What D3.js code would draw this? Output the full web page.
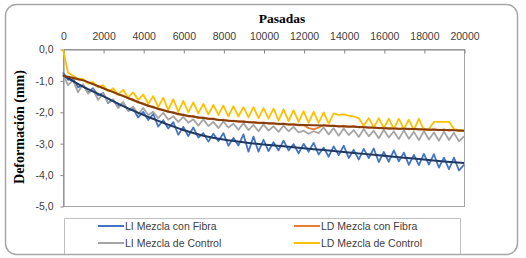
<!doctype html>
<html lang="es">
    <head>
        <meta charset="utf-8">
        <title>Deformación vs Pasadas</title>
        <script type="text/javascript" src="https://cdn.jsdelivr.net/npm/d3@7"></script>
        <style>
            body { margin: 0; background: #fff; }
            text { font-family: "Liberation Sans", Arial, sans-serif; fill: #404040; }
        </style>
    </head>
    <body>
        <script type="text/javascript">
            // sampling grid of passes (every 250)
            var pasadas = d3.range(0, 20001, 250);
            var yTicks = [0, -1, -2, -3, -4, -5];
            var xTicks = [0, 2000, 4000, 6000, 8000, 10000, 12000, 14000, 16000, 18000, 20000];

            var liFibra = [
                -0.75, -0.98, -0.95, -1.22, -1.15, -1.39, -1.25, -1.48, -1.40, -1.72,
                -1.62, -1.84, -1.70, -1.97, -1.90, -2.18, -2.00, -2.26, -2.07, -2.47,
                -2.27, -2.53, -2.33, -2.73, -2.48, -2.77, -2.50, -2.82, -2.68, -2.95,
                -2.70, -2.93, -2.68, -3.08, -2.83, -3.07, -2.72, -3.27, -2.79, -3.27,
                -2.89, -3.25, -2.97, -3.23, -2.92, -3.23, -3.03, -3.32, -3.02, -3.27,
                -2.99, -3.36, -3.14, -3.43, -3.10, -3.38, -3.08, -3.47, -3.21, -3.52,
                -3.18, -3.47, -3.17, -3.60, -3.28, -3.59, -3.23, -3.58, -3.30, -3.69,
                -3.37, -3.70, -3.34, -3.68, -3.35, -3.78, -3.46, -3.83, -3.46, -3.87,
                -3.68
            ];
            var ldFibra = [
                -0.85, -0.91, -0.92, -0.98, -0.98, -1.08, -1.10, -1.20, -1.23, -1.33,
                -1.35, -1.46, -1.48, -1.58, -1.60, -1.71, -1.73, -1.82, -1.83, -1.92,
                -1.93, -2.01, -2.01, -2.09, -2.08, -2.15, -2.13, -2.20, -2.18, -2.23,
                -2.21, -2.27, -2.25, -2.30, -2.28, -2.32, -2.30, -2.34, -2.32, -2.36,
                -2.34, -2.38, -2.36, -2.40, -2.37, -2.42, -2.39, -2.43, -2.42, -2.52,
                -2.56, -2.50, -2.42, -2.45, -2.43, -2.47, -2.44, -2.48, -2.45, -2.50,
                -2.47, -2.51, -2.48, -2.53, -2.50, -2.54, -2.51, -2.55, -2.52, -2.56,
                -2.53, -2.57, -2.54, -2.58, -2.55, -2.59, -2.56, -2.60, -2.57, -2.61,
                -2.60
            ];
            var liControl = [
                -0.80, -1.15, -1.00, -1.38, -1.12, -1.42, -1.30, -1.62, -1.42, -1.70,
                -1.60, -1.88, -1.70, -1.95, -1.84, -2.08, -1.88, -2.10, -2.00, -2.20,
                -2.03, -2.25, -2.14, -2.32, -2.16, -2.35, -2.24, -2.44, -2.24, -2.45,
                -2.32, -2.52, -2.31, -2.50, -2.38, -2.57, -2.36, -2.58, -2.42, -2.62,
                -2.40, -2.60, -2.46, -2.64, -2.44, -2.62, -2.48, -2.66, -2.60, -2.70,
                -2.62, -2.68, -2.50, -2.72, -2.52, -2.76, -2.53, -2.74, -2.58, -2.80,
                -2.55, -2.78, -2.60, -2.84, -2.57, -2.82, -2.62, -2.87, -2.59, -2.86,
                -2.64, -2.90, -2.61, -2.88, -2.66, -2.92, -2.63, -2.90, -2.67, -2.94,
                -2.78
            ];
            var ldControl = [
                0.00, -0.75, -0.85, -0.95, -0.95, -1.10, -1.05, -1.22, -1.15, -1.35,
                -1.25, -1.45, -1.30, -1.55, -1.38, -1.62, -1.45, -1.75, -1.50, -1.85,
                -1.55, -1.95, -1.60, -2.00, -1.65, -2.02, -1.70, -2.05, -1.75, -2.08,
                -1.78, -2.10, -1.80, -2.15, -1.82, -2.15, -1.85, -2.18, -1.85, -2.20,
                -1.88, -2.22, -1.90, -2.28, -1.92, -2.30, -1.95, -2.32, -1.98, -2.35,
                -2.00, -2.35, -2.02, -2.38, -2.05, -2.10, -2.08, -2.12, -2.15, -2.20,
                -2.45, -2.20, -2.50, -2.20, -2.52, -2.22, -2.55, -2.22, -2.55, -2.25,
                -2.58, -2.22, -2.58, -2.55, -2.32, -2.32, -2.32, -2.32, -2.55, -2.58,
                -2.60
            ];

            // trend lines (every 1000 passes)
            var trendX = [0, 1000, 2000, 3000, 4000, 5000, 6000, 7000, 8000, 9000, 10000,
                          11000, 12000, 13000, 14000, 15000, 16000, 17000, 18000, 19000, 20000];
            var trendLiFibra = [-0.83, -1.20, -1.50, -1.82, -2.10, -2.35, -2.58, -2.76, -2.88, -2.97, -3.04,
                                -3.10, -3.16, -3.22, -3.28, -3.34, -3.40, -3.46, -3.52, -3.58, -3.63];
            var trendLdFibra = [-0.85, -1.00, -1.25, -1.50, -1.75, -1.95, -2.10, -2.20, -2.27, -2.32, -2.36,
                                -2.39, -2.42, -2.44, -2.47, -2.49, -2.52, -2.54, -2.56, -2.58, -2.60];

            var seriesNames = ["LI Mezcla con Fibra", "LD Mezcla con Fibra", "LI Mezcla de Control", "LD Mezcla de Control"];
            var seriesColors = ["#4472C4", "#ED7D31", "#A5A5A5", "#FFC000"];

            var svgW = 526, svgH = 258;
            var plot = {left: 63, right: 464, top: 49, bottom: 206};

            var svg = d3.select("body")
                        .append("svg")
                        .attr("width", svgW)
                        .attr("height", svgH);

            // outer frame
            svg.append("rect")
               .attr("x", 5.5).attr("y", 4.5)
               .attr("width", 512).attr("height", 250)
               .attr("rx", 11)
               .attr("fill", "#fff")
               .attr("stroke", "#a6a6a6")
               .attr("stroke-width", 1.5);

            var xScale = d3.scaleLinear().domain([0, 20000]).range([plot.left, plot.right]);
            var yScale = d3.scaleLinear().domain([-5, 0]).range([plot.bottom, plot.top]);

            // plot box
            svg.append("rect")
               .attr("x", plot.left + 0.5).attr("y", plot.top + 0.5)
               .attr("width", plot.right - plot.left).attr("height", plot.bottom - plot.top)
               .attr("fill", "none")
               .attr("stroke", "#a6a6a6");

            var xAxis = d3.axisTop(xScale)
                          .tickValues(xTicks)
                          .tickSizeInner(-4)
                          .tickSizeOuter(0)
                          .tickPadding(10)
                          .tickFormat(d3.format("d"));
            var gx = svg.append("g")
                        .attr("transform", "translate(0.5," + (plot.top + 0.5) + ")")
                        .call(xAxis);
            gx.select(".domain").attr("stroke", "#868686");
            gx.selectAll(".tick line").attr("stroke", "#868686");
            gx.selectAll("text").attr("font-size", "10.5px")
              .attr("font-family", "Liberation Sans, Arial, sans-serif").attr("fill", "#404040");

            var yAxis = d3.axisLeft(yScale)
                          .tickValues(yTicks)
                          .tickSize(3)
                          .tickSizeOuter(0)
                          .tickPadding(7)
                          .tickFormat(d => d3.format(".1f")(d).replace(".", ",").replace("−", "-"));
            var gy = svg.append("g")
                        .attr("transform", "translate(" + (plot.left + 0.5) + ",0.5)")
                        .call(yAxis);
            gy.select(".domain").attr("stroke", "#868686");
            gy.selectAll(".tick line").attr("stroke", "#868686");
            gy.selectAll("text").attr("font-size", "10.5px")
              .attr("font-family", "Liberation Sans, Arial, sans-serif").attr("fill", "#404040");

            // titles
            svg.append("text")
               .attr("x", 282).attr("y", 23)
               .attr("text-anchor", "middle")
               .style("font-family", "Liberation Serif, Times New Roman, serif")
               .style("font-weight", "bold")
               .style("font-size", "13.5px")
               .style("fill", "#000")
               .text("Pasadas");

            svg.append("text")
               .attr("transform", "translate(24,127) rotate(-90)")
               .attr("text-anchor", "middle")
               .style("font-family", "Liberation Serif, Times New Roman, serif")
               .style("font-weight", "bold")
               .style("font-size", "14px")
               .style("fill", "#000")
               .text("Deformación (mm)");

            var line = d3.line()
                         .x(d => xScale(d[0]))
                         .y(d => yScale(d[1]));

            var dataSeries = [liFibra, ldFibra, liControl, ldControl];
            var g = svg.append("g");

            g.selectAll("path.serie")
             .data(dataSeries)
             .enter()
             .append("path")
             .attr("class", "serie")
             .attr("fill", "none")
             .attr("stroke", (_, i) => seriesColors[i])
             .attr("stroke-width", 1.8)
             .attr("stroke-linejoin", "round")
             .attr("d", d => line(d.map((v, i) => [pasadas[i], v])));

            var trendLine = d3.line()
                              .x(d => xScale(d[0]))
                              .y(d => yScale(d[1]))
                              .curve(d3.curveMonotoneX);

            g.selectAll("path.trend")
             .data([trendLiFibra, trendLdFibra])
             .enter()
             .append("path")
             .attr("class", "trend")
             .attr("fill", "none")
             .attr("stroke", (_, i) => ["#1F3864", "#843C0C"][i])
             .attr("stroke-width", 2)
             .attr("d", d => trendLine(d.map((v, i) => [trendX[i], v])));

            // legend
            var legend = svg.append("g");
            legend.append("path")
                  .attr("d", "M64.5,254 V218.5 H460.5 V254")
                  .attr("fill", "none")
                  .attr("stroke", "#bfbfbf");

            var legPos = [[98, 226], [294, 226], [98, 243], [294, 243]];
            var items = legend.selectAll("g.item")
                              .data(seriesNames)
                              .enter()
                              .append("g")
                              .attr("class", "item")
                              .attr("transform", (_, i) => "translate(" + legPos[i][0] + "," + legPos[i][1] + ")");
            items.append("line")
                 .attr("x1", 0).attr("x2", 26)
                 .attr("stroke", (_, i) => seriesColors[i])
                 .attr("stroke-width", 2);
            items.append("text")
                 .attr("x", 27).attr("y", 4)
                 .style("font-size", "10.5px")
                 .text(d => d);
        </script>
    </body>
</html>
